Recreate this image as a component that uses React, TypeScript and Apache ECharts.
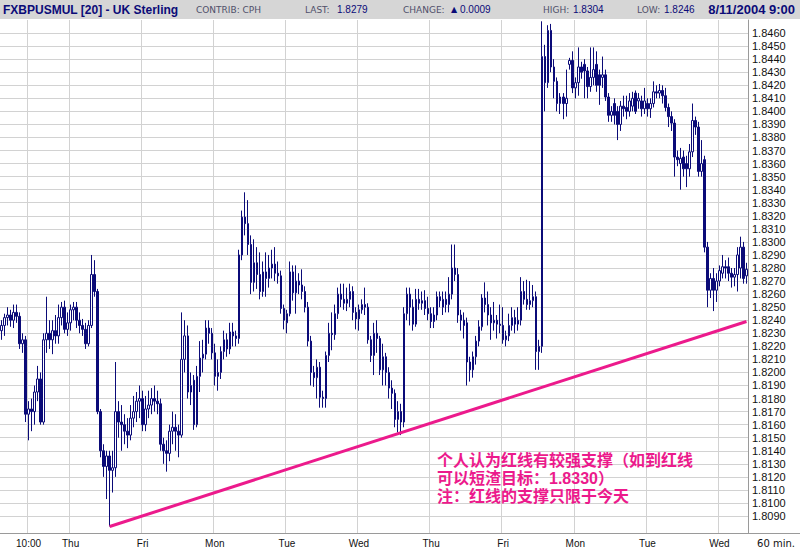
import React, { useEffect, useRef } from 'react';
import * as echarts from 'echarts';

type C = [number, number, number, number]; // [open, close, low, high]

const dayDates = ['7/28', '7/29', '7/30', '8/2', '8/3', '8/4', '8/5', '8/6', '8/9', '8/10', '8/11'];
const dayNames = ['Wed', 'Thu', 'Fri', 'Mon', 'Tue', 'Wed', 'Thu', 'Fri', 'Mon', 'Tue', 'Wed'];
const firstHours = [1, 0, 0, 0, 0, 0, 0, 0, 0, 0, 0];

const wed0: C[] = [
  [1.8232, 1.8236, 1.8225, 1.8240], [1.8236, 1.8242, 1.8228, 1.8245], [1.8242, 1.8244, 1.8236, 1.8250],
  [1.8244, 1.8240, 1.8235, 1.8248], [1.8240, 1.8246, 1.8234, 1.8252], [1.8246, 1.8243, 1.8238, 1.8252],
  [1.8243, 1.8222, 1.8218, 1.8246], [1.8222, 1.8225, 1.8215, 1.8230], [1.8225, 1.8168, 1.8162, 1.8228],
  [1.8168, 1.8172, 1.8148, 1.8178], [1.8172, 1.8170, 1.8155, 1.8180], [1.8170, 1.8185, 1.8160, 1.8190],
  [1.8185, 1.8195, 1.8178, 1.8205], [1.8195, 1.8162, 1.8160, 1.8200], [1.8162, 1.8225, 1.8160, 1.8230],
  [1.8225, 1.8230, 1.8215, 1.8258], [1.8230, 1.8225, 1.8218, 1.8240], [1.8225, 1.8232, 1.8214, 1.8240],
  [1.8232, 1.8228, 1.8222, 1.8244], [1.8228, 1.8242, 1.8222, 1.8252], [1.8242, 1.8250, 1.8236, 1.8254],
  [1.8250, 1.8233, 1.8230, 1.8255], [1.8233, 1.8238, 1.8228, 1.8246],
];
const thu1: C[] = [
  [1.8238, 1.8248, 1.8232, 1.8252], [1.8248, 1.8250, 1.8240, 1.8254], [1.8250, 1.8240, 1.8234, 1.8254],
  [1.8240, 1.8236, 1.8230, 1.8246], [1.8236, 1.8233, 1.8228, 1.8241], [1.8233, 1.8222, 1.8218, 1.8238],
  [1.8222, 1.8236, 1.8220, 1.8240], [1.8236, 1.8275, 1.8234, 1.8290], [1.8275, 1.8262, 1.8258, 1.8286],
  [1.8262, 1.8170, 1.8168, 1.8264], [1.8170, 1.8140, 1.8135, 1.8172], [1.8140, 1.8128, 1.8120, 1.8145],
  [1.8128, 1.8136, 1.8103, 1.8140], [1.8136, 1.8125, 1.8082, 1.8140], [1.8125, 1.8127, 1.8108, 1.8140],
  [1.8127, 1.8170, 1.8120, 1.8208], [1.8170, 1.8162, 1.8150, 1.8178], [1.8162, 1.8160, 1.8140, 1.8175],
  [1.8160, 1.8155, 1.8145, 1.8168], [1.8155, 1.8152, 1.8142, 1.8165], [1.8152, 1.8165, 1.8148, 1.8175],
  [1.8165, 1.8170, 1.8158, 1.8182], [1.8170, 1.8178, 1.8162, 1.8185], [1.8178, 1.8180, 1.8165, 1.8190],
];
const fri1: C[] = [
  [1.8180, 1.8160, 1.8155, 1.8186], [1.8160, 1.8172, 1.8155, 1.8182], [1.8172, 1.8175, 1.8165, 1.8186],
  [1.8175, 1.8180, 1.8168, 1.8188], [1.8180, 1.8178, 1.8170, 1.8190], [1.8178, 1.8176, 1.8168, 1.8186],
  [1.8176, 1.8145, 1.8140, 1.8180], [1.8145, 1.8140, 1.8130, 1.8150], [1.8140, 1.8138, 1.8124, 1.8148],
  [1.8138, 1.8155, 1.8132, 1.8160], [1.8155, 1.8158, 1.8145, 1.8170], [1.8158, 1.8155, 1.8140, 1.8168],
  [1.8155, 1.8152, 1.8135, 1.8160], [1.8152, 1.8210, 1.8150, 1.8246], [1.8210, 1.8228, 1.8200, 1.8240],
  [1.8228, 1.8185, 1.8180, 1.8236], [1.8185, 1.8190, 1.8175, 1.8200], [1.8194, 1.8160, 1.8156, 1.8198],
  [1.8160, 1.8197, 1.8158, 1.8205], [1.8197, 1.8211, 1.8185, 1.8224], [1.8211, 1.8214, 1.8200, 1.8225],
  [1.8214, 1.8234, 1.8210, 1.8240], [1.8234, 1.8230, 1.8222, 1.8240], [1.8230, 1.8215, 1.8210, 1.8234],
];
const mon1: C[] = [
  [1.8215, 1.8197, 1.8190, 1.8222], [1.8197, 1.8200, 1.8186, 1.8210], [1.8200, 1.8216, 1.8195, 1.8220],
  [1.8216, 1.8225, 1.8210, 1.8232], [1.8225, 1.8218, 1.8212, 1.8230], [1.8218, 1.8231, 1.8214, 1.8238],
  [1.8231, 1.8228, 1.8220, 1.8238], [1.8228, 1.8226, 1.8220, 1.8232], [1.8226, 1.8290, 1.8222, 1.8294],
  [1.8290, 1.8319, 1.8286, 1.8324], [1.8319, 1.8314, 1.8305, 1.8338], [1.8314, 1.8298, 1.8290, 1.8332],
  [1.8298, 1.8269, 1.8260, 1.8305], [1.8269, 1.8284, 1.8262, 1.8302], [1.8284, 1.8275, 1.8264, 1.8296],
  [1.8275, 1.8262, 1.8256, 1.8292], [1.8262, 1.8277, 1.8258, 1.8285], [1.8277, 1.8272, 1.8258, 1.8292],
  [1.8272, 1.8280, 1.8265, 1.8290], [1.8280, 1.8283, 1.8272, 1.8294], [1.8283, 1.8276, 1.8270, 1.8296],
  [1.8276, 1.8274, 1.8268, 1.8285], [1.8274, 1.8249, 1.8245, 1.8278], [1.8249, 1.8240, 1.8233, 1.8252],
];
const tue1: C[] = [
  [1.8238, 1.8245, 1.8230, 1.8248], [1.8245, 1.8277, 1.8243, 1.8285], [1.8277, 1.8261, 1.8255, 1.8282],
  [1.8261, 1.8270, 1.8245, 1.8282], [1.8270, 1.8267, 1.8260, 1.8276], [1.8267, 1.8262, 1.8256, 1.8279],
  [1.8262, 1.8250, 1.8246, 1.8266], [1.8250, 1.8224, 1.8220, 1.8254], [1.8224, 1.8200, 1.8190, 1.8228],
  [1.8200, 1.8196, 1.8189, 1.8205], [1.8196, 1.8204, 1.8180, 1.8210], [1.8204, 1.8181, 1.8173, 1.8208],
  [1.8181, 1.8180, 1.8173, 1.8186], [1.8180, 1.8213, 1.8173, 1.8216], [1.8213, 1.8230, 1.8208, 1.8238],
  [1.8230, 1.8229, 1.8217, 1.8246], [1.8229, 1.8245, 1.8225, 1.8252], [1.8245, 1.8260, 1.8241, 1.8265],
  [1.8260, 1.8256, 1.8250, 1.8268], [1.8256, 1.8253, 1.8248, 1.8268], [1.8253, 1.8256, 1.8247, 1.8265],
  [1.8256, 1.8262, 1.8250, 1.8268], [1.8262, 1.8246, 1.8240, 1.8266], [1.8246, 1.8241, 1.8233, 1.8250],
];
const wed1: C[] = [
  [1.8241, 1.8248, 1.8232, 1.8252], [1.8248, 1.8252, 1.8245, 1.8256], [1.8252, 1.8250, 1.8244, 1.8265],
  [1.8250, 1.8225, 1.8222, 1.8253], [1.8225, 1.8213, 1.8208, 1.8228], [1.8213, 1.8230, 1.8198, 1.8238],
  [1.8230, 1.8226, 1.8215, 1.8240], [1.8226, 1.8202, 1.8198, 1.8228], [1.8202, 1.8212, 1.8190, 1.8222],
  [1.8212, 1.8200, 1.8190, 1.8215], [1.8200, 1.8188, 1.8180, 1.8204], [1.8188, 1.8184, 1.8172, 1.8194],
  [1.8184, 1.8164, 1.8158, 1.8187], [1.8164, 1.8170, 1.8154, 1.8178], [1.8170, 1.8162, 1.8152, 1.8176],
  [1.8162, 1.8245, 1.8158, 1.8250], [1.8245, 1.8260, 1.8240, 1.8265], [1.8260, 1.8250, 1.8236, 1.8265],
  [1.8250, 1.8237, 1.8232, 1.8256], [1.8237, 1.8256, 1.8235, 1.8264], [1.8256, 1.8253, 1.8248, 1.8264],
  [1.8253, 1.8255, 1.8248, 1.8262], [1.8255, 1.8249, 1.8244, 1.8263], [1.8249, 1.8245, 1.8240, 1.8258],
];
const thu2: C[] = [
  [1.8245, 1.8239, 1.8234, 1.8250], [1.8239, 1.8244, 1.8234, 1.8250], [1.8244, 1.8258, 1.8240, 1.8262],
  [1.8258, 1.8255, 1.8250, 1.8262], [1.8250, 1.8256, 1.8244, 1.8262], [1.8256, 1.8252, 1.8246, 1.8262],
  [1.8252, 1.8260, 1.8246, 1.8273], [1.8260, 1.8280, 1.8256, 1.8298], [1.8280, 1.8275, 1.8270, 1.8298],
  [1.8275, 1.8244, 1.8238, 1.8280], [1.8244, 1.8240, 1.8232, 1.8248], [1.8240, 1.8236, 1.8226, 1.8246],
  [1.8238, 1.8208, 1.8190, 1.8242], [1.8208, 1.8202, 1.8193, 1.8212], [1.8202, 1.8212, 1.8196, 1.8216],
  [1.8212, 1.8224, 1.8206, 1.8228], [1.8224, 1.8235, 1.8220, 1.8240], [1.8235, 1.8257, 1.8232, 1.8260],
  [1.8257, 1.8252, 1.8246, 1.8269], [1.8252, 1.8244, 1.8236, 1.8262], [1.8244, 1.8238, 1.8225, 1.8250],
  [1.8238, 1.8240, 1.8232, 1.8254], [1.8240, 1.8237, 1.8226, 1.8244], [1.8237, 1.8236, 1.8230, 1.8252],
];
const fri2: C[] = [
  [1.8236, 1.8225, 1.8222, 1.8250], [1.8225, 1.8228, 1.8220, 1.8232], [1.8228, 1.8236, 1.8224, 1.8245],
  [1.8236, 1.8242, 1.8232, 1.8250], [1.8242, 1.8237, 1.8230, 1.8248], [1.8237, 1.8240, 1.8232, 1.8250],
  [1.8240, 1.8262, 1.8236, 1.8273], [1.8262, 1.8256, 1.8252, 1.8270], [1.8256, 1.8252, 1.8248, 1.8271],
  [1.8252, 1.8255, 1.8248, 1.8270], [1.8255, 1.8258, 1.8250, 1.8267], [1.8258, 1.8216, 1.8202, 1.8262],
  [1.8216, 1.8220, 1.8202, 1.8225], [1.8220, 1.8442, 1.8215, 1.8469], [1.8442, 1.8422, 1.8400, 1.8451],
  [1.8422, 1.8462, 1.8418, 1.8466], [1.8462, 1.8434, 1.8430, 1.8467], [1.8434, 1.8423, 1.8410, 1.8440],
  [1.8423, 1.8406, 1.8400, 1.8426], [1.8406, 1.8411, 1.8398, 1.8414], [1.8411, 1.8406, 1.8394, 1.8414],
  [1.8406, 1.8410, 1.8396, 1.8432], [1.8436, 1.8439, 1.8432, 1.8441], [1.8439, 1.8418, 1.8414, 1.8446],
];
const mon2: C[] = [
  [1.8418, 1.8422, 1.8410, 1.8426], [1.8422, 1.8434, 1.8412, 1.8449], [1.8434, 1.8430, 1.8425, 1.8438],
  [1.8436, 1.8431, 1.8410, 1.8440], [1.8431, 1.8419, 1.8410, 1.8434], [1.8419, 1.8426, 1.8415, 1.8449],
  [1.8426, 1.8432, 1.8420, 1.8449], [1.8436, 1.8420, 1.8415, 1.8446], [1.8428, 1.8420, 1.8405, 1.8432],
  [1.8426, 1.8428, 1.8418, 1.8442], [1.8428, 1.8411, 1.8408, 1.8432], [1.8411, 1.8397, 1.8392, 1.8414],
  [1.8397, 1.8400, 1.8392, 1.8404], [1.8406, 1.8397, 1.8390, 1.8410], [1.8400, 1.8390, 1.8378, 1.8404],
  [1.8390, 1.8404, 1.8385, 1.8408], [1.8404, 1.8402, 1.8396, 1.8412], [1.8403, 1.8400, 1.8394, 1.8412],
  [1.8400, 1.8408, 1.8396, 1.8414], [1.8404, 1.8410, 1.8400, 1.8415], [1.8414, 1.8400, 1.8398, 1.8416],
  [1.8408, 1.8410, 1.8402, 1.8414], [1.8408, 1.8402, 1.8396, 1.8412], [1.8402, 1.8408, 1.8398, 1.8418],
];
const tue2: C[] = [
  [1.8406, 1.8402, 1.8396, 1.8410], [1.8402, 1.8406, 1.8395, 1.8410], [1.8406, 1.8415, 1.8403, 1.8423],
  [1.8415, 1.8414, 1.8410, 1.8420], [1.8414, 1.8416, 1.8410, 1.8421], [1.8416, 1.8412, 1.8406, 1.8420],
  [1.8412, 1.8403, 1.8400, 1.8418], [1.8403, 1.8396, 1.8388, 1.8406], [1.8396, 1.8391, 1.8385, 1.8400],
  [1.8391, 1.8365, 1.8350, 1.8394], [1.8365, 1.8363, 1.8358, 1.8370], [1.8360, 1.8364, 1.8340, 1.8372],
  [1.8365, 1.8356, 1.8350, 1.8370], [1.8360, 1.8356, 1.8342, 1.8366], [1.8356, 1.8369, 1.8350, 1.8375],
  [1.8369, 1.8393, 1.8365, 1.8406], [1.8393, 1.8388, 1.8382, 1.8396], [1.8388, 1.8354, 1.8350, 1.8392],
  [1.8354, 1.8360, 1.8350, 1.8378], [1.8363, 1.8296, 1.8292, 1.8366], [1.8296, 1.8263, 1.8250, 1.8300],
  [1.8263, 1.8272, 1.8257, 1.8276], [1.8272, 1.8263, 1.8247, 1.8280], [1.8263, 1.8270, 1.8254, 1.8276],
];
const wed2: C[] = [
  [1.8270, 1.8278, 1.8266, 1.8282], [1.8276, 1.8281, 1.8272, 1.8290], [1.8281, 1.8280, 1.8272, 1.8286],
  [1.8281, 1.8276, 1.8270, 1.8288], [1.8276, 1.8273, 1.8265, 1.8280], [1.8273, 1.8275, 1.8266, 1.8280],
  [1.8275, 1.8290, 1.8262, 1.8296], [1.8280, 1.8296, 1.8272, 1.8304], [1.8296, 1.8272, 1.8268, 1.8300],
  [1.8274, 1.8279, 1.8268, 1.8284],
];
const days: C[][] = [wed0, thu1, fri1, mon1, tue1, wed1, thu2, fri2, mon2, tue2, wed2];

const priceTicks = [
  1.809, 1.810, 1.811, 1.812, 1.813, 1.814, 1.815, 1.816, 1.817, 1.818,
  1.819, 1.820, 1.821, 1.822, 1.823, 1.824, 1.825, 1.826, 1.827, 1.828,
  1.829, 1.830, 1.831, 1.832, 1.833, 1.834, 1.835, 1.836, 1.837, 1.838,
  1.839, 1.840, 1.841, 1.842, 1.843, 1.844, 1.845, 1.846,
];
const firstLabelCategory = '7/28 10:00';
const firstLabelText = '10:00';

// trend line: [category index, price]
const trendStart: [number, number] = [36, 1.8082];
const trendEnd: [number, number] = [248, 1.8239];

const annotationLines = [
  '个人认为红线有较强支撑（如到红线',
  '可以短渣目标：1.8330）',
  '注：红线的支撑只限于今天',
];

const headerTitle = 'FXBPUSMUL [20] - UK Sterling';
const headerContrib = 'CONTRIB: CPH';
const headerLast = '1.8279';
const headerChange = '0.0009';
const headerHigh = '1.8304';
const headerLow = '1.8246';
const headerDate = '8/11/2004 9:00';
const periodLabel = '60 min.';

const NAVY = '#0b0b78';
const PINK = '#ec1a8c';
const GRIDC = '#d2d2d2';

function pad(n: number) {
  return (n < 10 ? '0' : '') + n + ':00';
}

export default function App() {
  const ref = useRef<HTMLDivElement>(null);
  useEffect(() => {
    if (!ref.current) return;
    const chart = echarts.init(ref.current, undefined, { renderer: 'svg' });

    const categories: string[] = [];
    const candles: C[] = [];
    const dayOf: Record<string, string> = {};
    days.forEach((arr, d) => {
      dayOf[dayDates[d]] = dayNames[d];
      arr.forEach((c, j) => {
        categories.push(dayDates[d] + ' ' + pad(firstHours[d] + j));
        candles.push(c);
      });
    });
    const isMarked = (_i: number, v: string) => v === firstLabelCategory || v.endsWith(' 00:00');
    const lastClose = candles[candles.length - 1][1];

    const hdrLabel = { fontFamily: 'DejaVu Sans', fontSize: 9, fill: '#50506a' };
    const hdrValue = { fontFamily: 'Liberation Sans', fontSize: 10, fill: NAVY };
    const txt = (x: number, text: string, st: any) => ({
      type: 'text', x, y: 9.5, z: 100,
      style: { text, verticalAlign: 'middle', ...st },
    });

    const annot = annotationLines.map((line, k) => ({
      type: 'text', x: 437, y: 460 + k * 18, z: 100,
      style: {
        text: line,
        fill: PINK,
        fontFamily: '"Liberation Sans", "Noto Sans CJK SC"',
        fontWeight: 'bold',
        fontSize: 16,
        verticalAlign: 'middle',
      },
    }));

    chart.setOption({
      animation: false,
      backgroundColor: '#ffffff',
      grid: { left: 0, right: 52, top: 20, bottom: 17, containLabel: false },
      xAxis: {
        type: 'category',
        data: categories,
        boundaryGap: true,
        axisLine: { show: true, lineStyle: { color: '#9a9a9a', width: 1 } },
        axisTick: { show: false },
        axisLabel: {
          interval: isMarked,
          formatter: (v: string) => {
            if (v === firstLabelCategory) return firstLabelText;
            return dayOf[v.split(' ')[0]];
          },
          color: '#111',
          fontFamily: 'Liberation Sans',
          fontSize: 10,
          margin: 5,
          hideOverlap: false,
        },
        splitLine: { show: true, interval: isMarked, lineStyle: { color: GRIDC, width: 1 } },
      },
      yAxis: {
        type: 'value',
        position: 'right',
        min: 1.8077,
        max: 1.847,
        axisLine: { show: true, lineStyle: { color: '#9a9a9a', width: 1 } },
        axisTick: { show: false, customValues: priceTicks },
        axisLabel: {
          customValues: priceTicks,
          formatter: (v: number) => v.toFixed(4),
          color: '#111',
          fontFamily: 'Liberation Sans',
          fontSize: 11,
          margin: 4,
        },
        splitLine: { show: true, lineStyle: { color: GRIDC, width: 1 } },
      },
      series: [
        {
          type: 'candlestick',
          data: candles,
          barWidth: 2,
          itemStyle: {
            color: '#ffffff',
            color0: NAVY,
            borderColor: NAVY,
            borderColor0: NAVY,
            borderWidth: 1,
          },
          markLine: {
            silent: true,
            symbol: ['none', 'none'],
            animation: false,
            data: [
              [
                {
                  coord: trendStart,
                  lineStyle: { color: PINK, width: 3, type: 'solid' },
                  label: { show: false },
                },
                { coord: trendEnd },
              ],
              {
                yAxis: lastClose,
                lineStyle: { opacity: 0, width: 0 },
                label: {
                  show: true,
                  position: 'end',
                  distance: 3,
                  formatter: (p: any) => Number(p.value).toFixed(4),
                  color: '#ffffff',
                  backgroundColor: NAVY,
                  fontFamily: 'Liberation Sans',
                  fontSize: 11,
                  lineHeight: 12,
                  padding: [0, 14, 0, 2],
                },
              },
            ],
          },
        },
      ],
      graphic: [
        { type: 'rect', z: 90, shape: { x: 0, y: 0, width: 800, height: 19 }, style: { fill: '#d6d6d6' } },
        { type: 'line', z: 90, shape: { x1: 748, y1: 533.5, x2: 800, y2: 533.5 }, style: { stroke: '#9a9a9a', lineWidth: 1 } },
        txt(3, headerTitle, { fontFamily: 'Liberation Sans', fontWeight: 'bold', fontSize: 12, fill: NAVY }),
        txt(196, headerContrib, hdrLabel),
        txt(305, 'LAST:', hdrLabel),
        txt(337, headerLast, hdrValue),
        txt(403, 'CHANGE:', hdrLabel),
        txt(451, '▲', { fontFamily: 'DejaVu Sans', fontSize: 8, fill: NAVY }),
        txt(460, headerChange, hdrValue),
        txt(543, 'HIGH:', hdrLabel),
        txt(573, headerHigh, hdrValue),
        txt(637, 'LOW:', hdrLabel),
        txt(664, headerLow, hdrValue),
        txt(795, headerDate, { fontFamily: 'Liberation Sans', fontWeight: 'bold', fontSize: 13, fill: NAVY, textAlign: 'right' }),
        {
          type: 'text', x: 776, y: 543, z: 100,
          style: { text: periodLabel, textAlign: 'center', verticalAlign: 'middle', fontFamily: 'DejaVu Sans', fontSize: 10, fill: '#111' },
        },
        ...annot,
      ],
    });
    return () => chart.dispose();
  }, []);
  return (
    <div
      ref={ref}
      style={{ position: 'fixed', left: 0, top: 0, width: 800, height: 550, background: '#fff' }}
    />
  );
}
